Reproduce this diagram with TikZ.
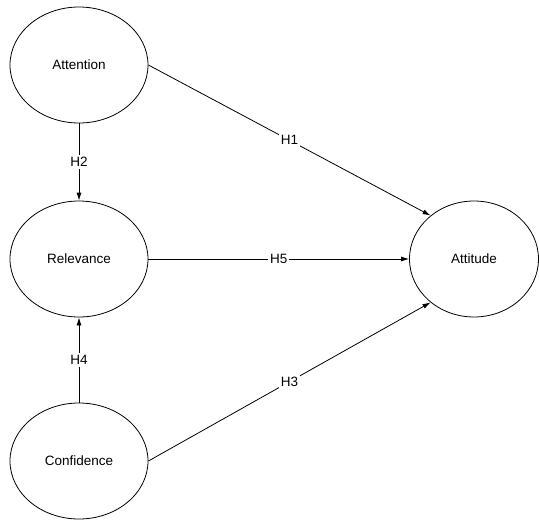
\documentclass[tikz,border=0pt]{standalone}
\usepackage{fontspec}
\setmainfont{Liberation Sans}
\usetikzlibrary{shapes.geometric,arrows.meta}
\begin{document}
\begin{tikzpicture}[x=1pt,y=1pt,
  construct/.style={draw,ellipse,line width=0.8pt,inner sep=0pt,minimum width=138pt,minimum height=116pt,font=\fontsize{13.5}{15}\selectfont},
  path/.style={draw,line width=0.8pt,-{Latex[length=8pt,width=5pt]}},
  hlabel/.style={fill=white,inner sep=2pt,font=\fontsize{13.5}{15}\selectfont}]
\useasboundingbox (0,0) rectangle (539,-520);
\node[construct] (att) at (79,-65) {Attention};
\node[construct] (rel) at (79,-259) {Relevance};
\node[construct] (conf) at (79,-461) {Confidence};
\node[construct,minimum width=129pt] (atti) at (474,-259) {Attitude};
\draw[path] (att.east) -- node[hlabel] {H1} (atti.135);
\draw[path] (att.south) -- node[hlabel] {H2} (rel.north);
\draw[path] (rel.east) -- node[hlabel] {H5} (atti.west);
\draw[path] (conf.north) -- node[hlabel] {H4} (rel.south);
\draw[path] (conf.east) -- node[hlabel] {H3} (atti.225);
\end{tikzpicture}
\end{document}
